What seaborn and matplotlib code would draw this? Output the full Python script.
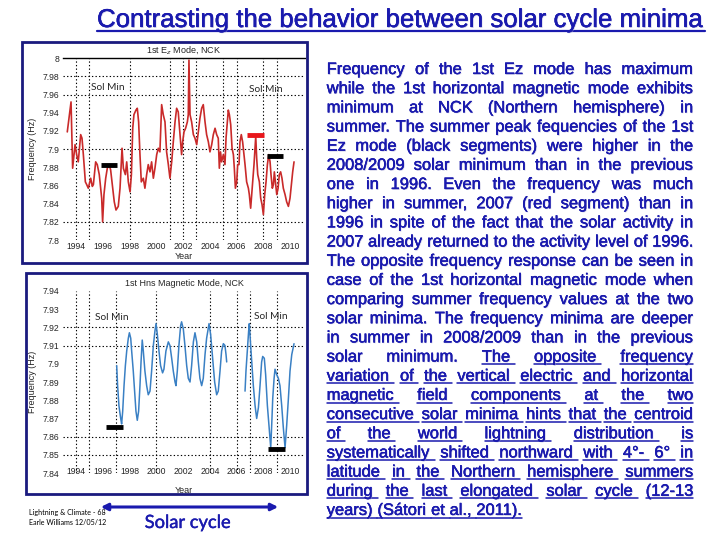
import matplotlib
matplotlib.use("Agg")
import matplotlib.pyplot as plt
import seaborn as sns
import pandas as pd
from matplotlib.font_manager import FontProperties
from matplotlib.patches import Rectangle, FancyArrowPatch
from matplotlib.lines import Line2D
import matplotlib.patheffects as pe

# ---------------- data ----------------
ez_year = [1993.35, 1993.63, 1993.75, 1993.93, 1994.05, 1994.17, 1994.35, 1994.45, 1994.55, 1994.70,
           1994.80, 1994.92, 1995.10, 1995.22, 1995.30, 1995.47, 1995.59, 1995.74, 1995.92, 1995.99,
           1996.09, 1996.22, 1996.34, 1996.49, 1996.59, 1996.74, 1996.86, 1996.99, 1997.16, 1997.29,
           1997.44, 1997.54, 1997.69, 1997.79, 1997.91, 1998.04, 1998.14, 1998.24, 1998.33, 1998.48,
           1998.58, 1998.68, 1998.78, 1998.88, 1999.03, 1999.15, 1999.28, 1999.40, 1999.53, 1999.65,
           1999.78, 1999.90, 2000.03, 2000.15, 2000.27, 2000.40, 2000.52, 2000.65, 2000.77, 2000.90,
           2001.02, 2001.15, 2001.27, 2001.40, 2001.52, 2001.64, 2001.77, 2001.89, 2001.97, 2002.07,
           2002.19, 2002.32, 2002.39, 2002.44, 2002.52, 2002.64, 2002.77, 2002.89, 2003.02, 2003.14,
           2003.26, 2003.39, 2003.51, 2003.64, 2003.76, 2003.89, 2004.01, 2004.14, 2004.26, 2004.39,
           2004.51, 2004.63, 2004.71, 2004.80, 2004.88, 2005.01, 2005.13, 2005.21, 2005.31, 2005.38,
           2005.46, 2005.56, 2005.66, 2005.76, 2005.83, 2005.91, 2006.01, 2006.08, 2006.18, 2006.25,
           2006.35, 2006.45, 2006.55, 2006.63, 2006.75, 2006.88, 2006.95, 2007.05, 2007.13, 2007.20,
           2007.30, 2007.43, 2007.50, 2007.58, 2007.70, 2007.80, 2007.90, 2008.00, 2008.10, 2008.20,
           2008.30, 2008.40, 2008.50, 2008.57, 2008.67, 2008.75, 2008.82, 2008.90, 2009.00, 2009.10,
           2009.19, 2009.29, 2009.39, 2009.49, 2009.62, 2009.74, 2009.87, 2009.99, 2010.09, 2010.19,
           2010.29]
ez_freq = [7.919, 7.952, 7.879, 7.905, 7.894, 7.886, 7.916, 7.912, 7.894, 7.864,
           7.861, 7.857, 7.868, 7.859, 7.861, 7.886, 7.883, 7.872, 7.846, 7.820,
           7.850, 7.868, 7.879, 7.883, 7.877, 7.857, 7.842, 7.833, 7.837, 7.857,
           7.901, 7.879, 7.872, 7.886, 7.864, 7.853, 7.872, 7.923, 7.938, 7.943,
           7.945, 7.930, 7.894, 7.864, 7.868, 7.857, 7.872, 7.883, 7.875, 7.886,
           7.868, 7.879, 7.894, 7.901, 7.897, 7.949, 7.938, 7.930, 7.897, 7.883,
           7.868, 7.886, 7.908, 7.930, 7.945, 7.941, 7.916, 7.894, 7.908, 7.919,
           7.923, 7.930, 7.938, 7.998, 7.938, 7.930, 7.916, 7.912, 7.905, 7.919,
           7.934, 7.945, 7.949, 7.930, 7.916, 7.908, 7.897, 7.905, 7.916, 7.923,
           7.916, 7.912, 7.879, 7.897, 7.886, 7.894, 7.883, 7.912, 7.930, 7.943,
           7.938, 7.927, 7.901, 7.894, 7.879, 7.857, 7.864, 7.883, 7.883, 7.908,
           7.916, 7.908, 7.894, 7.883, 7.864, 7.857, 7.850, 7.835, 7.850, 7.864,
           7.883, 7.914, 7.890, 7.872, 7.864, 7.846, 7.839, 7.828, 7.850, 7.864,
           7.883, 7.894, 7.886, 7.872, 7.857, 7.861, 7.875, 7.864, 7.850, 7.857,
           7.872, 7.875, 7.868, 7.857, 7.850, 7.842, 7.837, 7.846, 7.861, 7.875,
           7.886]

hns_year_a = [1997.04, 1997.11, 1997.21, 1997.34, 1997.41, 1997.49, 1997.59, 1997.69, 1997.79, 1997.91,
              1997.99, 1998.09, 1998.16, 1998.28, 1998.38, 1998.48, 1998.58, 1998.68, 1998.78, 1998.86,
              1998.95, 1999.03, 1999.15, 1999.28, 1999.40, 1999.53, 1999.65, 1999.78, 1999.90, 1999.98,
              2000.08, 2000.20, 2000.32, 2000.47, 2000.57, 2000.72, 2000.90, 2001.02, 2001.15, 2001.27,
              2001.40, 2001.47, 2001.57, 2001.69, 2001.82, 2001.89, 2002.02, 2002.14, 2002.27, 2002.39,
              2002.52, 2002.64, 2002.77, 2002.89, 2003.02, 2003.14, 2003.26, 2003.39, 2003.51, 2003.64,
              2003.76, 2003.94, 2004.06, 2004.21, 2004.36, 2004.51, 2004.63, 2004.76, 2004.88, 2005.01,
              2005.13, 2005.21, 2005.26]
hns_freq_a = [7.899, 7.888, 7.877, 7.870, 7.867, 7.874, 7.888, 7.899, 7.907, 7.914,
              7.917, 7.914, 7.907, 7.896, 7.885, 7.874, 7.869, 7.874, 7.888, 7.901,
              7.913, 7.907, 7.896, 7.888, 7.883, 7.885, 7.896, 7.910, 7.918, 7.922,
              7.916, 7.907, 7.899, 7.895, 7.897, 7.907, 7.912, 7.910, 7.903, 7.896,
              7.890, 7.888, 7.896, 7.910, 7.921, 7.923, 7.919, 7.910, 7.899, 7.892,
              7.890, 7.899, 7.912, 7.917, 7.912, 7.901, 7.892, 7.888, 7.892, 7.905,
              7.914, 7.922, 7.916, 7.903, 7.890, 7.883, 7.885, 7.896, 7.907, 7.911,
              7.910, 7.905, 7.901]
hns_year_b = [2006.63, 2006.70, 2006.80, 2006.90, 2006.95, 2007.05, 2007.15, 2007.25, 2007.38, 2007.50,
              2007.63, 2007.75, 2007.87, 2007.95, 2008.07, 2008.17, 2008.30, 2008.42, 2008.55, 2008.62,
              2008.70, 2008.80, 2008.87, 2009.00, 2009.12, 2009.24, 2009.37, 2009.49, 2009.62, 2009.74,
              2009.87, 2009.99, 2010.12, 2010.29]
hns_freq_b = [7.885, 7.896, 7.907, 7.918, 7.922, 7.910, 7.899, 7.888, 7.877, 7.870,
              7.876, 7.888, 7.901, 7.904, 7.903, 7.894, 7.877, 7.866, 7.854, 7.866,
              7.881, 7.892, 7.897, 7.894, 7.892, 7.888, 7.877, 7.865, 7.854, 7.866,
              7.881, 7.896, 7.905, 7.911]

ez_black_start = [1995.85, 2008.30]
ez_black_end = [1997.05, 2009.50]
ez_black_val = [7.883, 7.893]
ez_red_start = [2006.75]
ez_red_end = [2008.05]
ez_red_val = [7.916]
hns_black_start = [1996.25, 2008.37]
hns_black_end = [1997.50, 2009.62]
hns_black_val = [7.8655, 7.8535]

year_ticks = [1994, 1996, 1998, 2000, 2002, 2004, 2006, 2008, 2010]
ez_yticks = [7.80, 7.82, 7.84, 7.86, 7.88, 7.90, 7.92, 7.94, 7.96, 7.98, 8.00]
ez_ytick_labels = ['7.8', '7.82', '7.84', '7.86', '7.88', '7.9', '7.92', '7.94', '7.96', '7.98', '8']
hns_yticks = [7.84, 7.85, 7.86, 7.87, 7.88, 7.89, 7.90, 7.91, 7.92, 7.93, 7.94]
hns_ytick_labels = ['7.84', '7.85', '7.86', '7.87', '7.88', '7.89', '7.9', '7.91', '7.92', '7.93', '7.94']
ez_vgrid = [1994, 1995, 1998, 2001, 2002, 2003, 2005, 2006, 2008, 2009]
ez_hgrid = [7.82, 7.90, 7.96, 7.98]
hns_vgrid = [1994, 1995, 1997, 2000, 2004, 2006, 2007, 2009]
hns_hgrid = [7.85, 7.86, 7.91, 7.92]

heading = "Contrasting the behavior between solar cycle minima"
para_lines = [
    "Frequency of the 1st Ez mode has maximum",
    "while the 1st horizontal magnetic mode exhibits",
    "minimum at NCK (Northern hemisphere) in",
    "summer. The summer peak fequencies of the 1st",
    "Ez mode (black segments) were higher in the",
    "2008/2009 solar minimum than in the previous",
    "one in 1996. Even the frequency was much",
    "higher in summer, 2007 (red segment) than in",
    "1996 in spite of the fact that the solar activity in",
    "2007 already returned to the activity level of 1996.",
    "The opposite frequency response can be seen in",
    "case of the 1st horizontal magnetic mode when",
    "comparing summer frequency values at the two",
    "solar minima. The frequency minima are deeper",
    "in summer in 2008/2009 than in the previous",
    "solar minimum. The opposite frequency",
    "variation of the vertical electric and horizontal",
    "magnetic field components at the two",
    "consecutive solar minima hints that the centroid",
    "of the world lightning distribution is",
    "systematically shifted northward with 4°- 6° in",
    "latitude in the Northern hemisphere summers",
    "during the last elongated solar cycle (12-13",
    "years) (Sátori et al., 2011).",
]

# ---------------- figure ----------------
sns.set_style("white")
plt.rcParams['font.family'] = ['Liberation Sans', 'DejaVu Sans']

W, H = 720, 540
fig = plt.figure(figsize=(7.2, 5.4), dpi=100)
fig.patch.set_facecolor('white')


def fx(px):
    return px / W


def fy(py):
    return 1 - py / H


BLUE = '#1a1aae'
NAVY = '#1a1a7e'
GRID_LS = (0, (1.2, 2.0))

for (x0, y0, x1, y1) in [(21.7, 41.7, 307.3, 262.7), (26, 272.7, 307.3, 494)]:
    fig.patches.append(Rectangle((fx(x0), fy(y1)), fx(x1) - fx(x0), fy(y0) - fy(y1),
                                 transform=fig.transFigure, fill=False, ec=NAVY, lw=2))

ax1 = fig.add_axes([fx(63), fy(240), fx(305) - fx(63), fy(58.3) - fy(240)])
ax2 = fig.add_axes([fx(63), fy(473.2), fx(305) - fx(63), fy(290.8) - fy(473.2)])

df_ez = pd.DataFrame({'Year': ez_year, 'Frequency': ez_freq})
sns.lineplot(data=df_ez, x='Year', y='Frequency', ax=ax1, color='#c92a2a', lw=1.2,
             estimator=None, sort=False, zorder=3)
ax1.hlines(ez_black_val, ez_black_start, ez_black_end, colors='black', lw=3.5, zorder=5)
ax1.hlines(ez_red_val, ez_red_start, ez_red_end, colors='#e8161b', lw=3.5, zorder=5)

for seg_y, seg_f in [(hns_year_a, hns_freq_a), (hns_year_b, hns_freq_b)]:
    df_h = pd.DataFrame({'Year': seg_y, 'Frequency': seg_f})
    sns.lineplot(data=df_h, x='Year', y='Frequency', ax=ax2, color='#3a80c4', lw=1.1,
                 estimator=None, sort=False, zorder=3)
ax2.hlines(hns_black_val, hns_black_start, hns_black_end, colors='black', lw=3.5, zorder=5)

for ax, vg, hg in [(ax1, ez_vgrid, ez_hgrid), (ax2, hns_vgrid, hns_hgrid)]:
    for v in vg:
        ax.axvline(v, color='black', lw=0.8, ls=GRID_LS, zorder=1)
    for h in hg:
        ax.axhline(h, color='black', lw=0.8, ls=GRID_LS, zorder=1)
    ax.set_facecolor('none')
    ax.set_xlim(1993.03, 2011.11)
    ax.set_xticks(year_ticks)
    ax.set_xticklabels([str(y) for y in year_ticks])
    ax.tick_params(axis='both', length=0, labelsize=6.2)
    ax.tick_params(axis='y', pad=2.8)
    for s in ['left', 'right', 'bottom', 'top']:
        ax.spines[s].set_visible(False)

ax1.spines['top'].set_visible(True)
ax1.spines['top'].set_color('black')
ax1.spines['top'].set_linewidth(1.0)
ax1.set_ylim(7.8, 8.0)
ax1.set_yticks(ez_yticks)
ax1.set_yticklabels(ez_ytick_labels)
ax1.tick_params(axis='x', pad=1.5)

ax2.set_ylim(7.84, 7.94)
ax2.set_yticks(hns_yticks)
ax2.set_yticklabels(hns_ytick_labels)
ax2.tick_params(axis='x', pad=-1)
for lab in ax2.get_xticklabels():
    lab.set_verticalalignment('center')

ax1.set_title('1st E$_z$ Mode, NCK', fontsize=6.5, pad=4)
ax2.set_title('1st Hns Magnetic Mode, NCK', fontsize=6.5, pad=3.5)
for ax, yb in [(ax1, -0.066), (ax2, -0.07)]:
    ax.set_xlabel('Year', fontsize=6.5)
    ax.xaxis.set_label_coords(0.5, yb)
    ax.set_ylabel('Frequency (Hz)', fontsize=6.5)
    ax.yaxis.set_label_coords(-0.107, 0.5)

sol_kw = dict(fontsize=7.3, family=['Lato', 'DejaVu Sans'], ha='center', va='center', zorder=6)
ax1.text(0.184, 0.840, 'Sol Min', transform=ax1.transAxes, **sol_kw)
ax1.text(0.839, 0.831, 'Sol Min', transform=ax1.transAxes, **sol_kw)
ax2.text(0.201, 0.851, 'Sol Min', transform=ax2.transAxes, **sol_kw)
ax2.text(0.860, 0.858, 'Sol Min', transform=ax2.transAxes, **sol_kw)

# ---------------- slide text ----------------
r = fig.canvas.get_renderer()


def tw(s, fp):
    return r.get_text_width_height_descent(s, fp, ismath=False)[0]


heavy = [pe.withSimplePatchShadow(offset=(0.6, -0.6), shadow_rgbFace='#a0a0d0', alpha=0.5),
         pe.Stroke(linewidth=0.2, foreground=BLUE), pe.Normal()]

# heading, fitted to width
fam = 'Liberation Sans'
fp10 = FontProperties(family=fam, size=10)
hsize = 10 * 608 / tw(heading, fp10)
fig.text(fx(97), fy(27), heading, fontsize=hsize, family=fam, color=BLUE,
         ha='left', va='baseline', path_effects=heavy)
fig.add_artist(Line2D([fx(97), fx(705)], [fy(31), fy(31)], transform=fig.transFigure,
                      color=BLUE, lw=1.6))

# paragraph, justified
left, right = 326.7, 693.3
box_w = right - left
maxw = max(tw(l, fp10) for l in para_lines[:-1])
psize = 10 * box_w / maxw
fp = FontProperties(family=fam, size=psize)
space_w = tw('a a', fp) - tw('aa', fp)
base0, lh = 74.0, 19.17
underline_from = (15, 2)
for i, line in enumerate(para_lines):
    words = line.split(' ')
    widths = [tw(w_, fp) for w_ in words]
    if i < len(para_lines) - 1 and len(words) > 1:
        gap = (box_w - sum(widths)) / (len(words) - 1)
    else:
        gap = space_w
    x = left
    yb = base0 + i * lh
    for j, (w_, wd) in enumerate(zip(words, widths)):
        fig.text(fx(x), fy(yb), w_, fontsize=psize, family=fam, color=BLUE,
                 ha='left', va='baseline', path_effects=heavy)
        if (i, j) >= underline_from:
            ul = wd + (space_w if j < len(words) - 1 else 0)
            fig.add_artist(Line2D([fx(x), fx(x + ul)], [fy(yb + 2.7), fy(yb + 2.7)],
                                  transform=fig.transFigure, color=BLUE, lw=1.1))
        x += wd + gap

# bottom notes
small_fam = ['Lato', 'DejaVu Sans']
fps = FontProperties(family='Lato', size=10)
ssize = 10 * 77 / tw('Earle Williams 12/05/12', fps)
fig.text(fx(29), fy(513), 'Lightning & Climate - 68', fontsize=ssize, family=small_fam,
         ha='left', va='center', color='black')
fig.text(fx(29), fy(522.5), 'Earle Williams 12/05/12', fontsize=ssize, family=small_fam,
         ha='left', va='center', color='black')

arrow = FancyArrowPatch((fx(98), fy(507)), (fx(281), fy(507)), transform=fig.transFigure,
                        arrowstyle='<|-|>', mutation_scale=10, lw=2.2, color=BLUE)
fig.patches.append(arrow)

csize = 10 * 86 / tw('Solar cycle', fps)
fig.text(fx(187.5), fy(523), 'Solar cycle', fontsize=csize, family=small_fam, color=BLUE,
         ha='center', va='center', path_effects=[pe.Stroke(linewidth=0.3, foreground=BLUE), pe.Normal()])

fig.savefig('out.png', dpi=100)
